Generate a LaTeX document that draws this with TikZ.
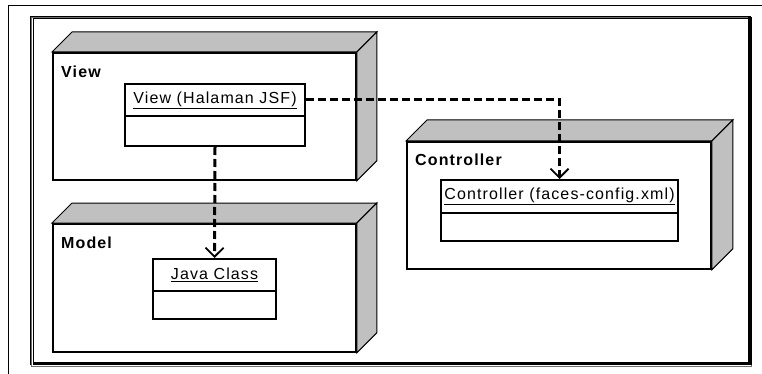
\documentclass[tikz,border=0pt]{standalone}
\usepackage{fontspec}
\setmainfont{Liberation Sans}[LetterSpace=7]
\usetikzlibrary{arrows.meta,calc}
\definecolor{silver}{RGB}{192,192,192}
\definecolor{framegray}{RGB}{110,110,110}

% shaded top and right faces of a UML node box
\newcommand{\nodedepth}[2]{%
  \filldraw[depthface] (#1.north west) -- ++(#2,-#2) -- ($(#1.north east)+(#2,-#2)$) -- (#1.north east) -- cycle;
  \filldraw[depthface] (#1.north east) -- ++(#2,-#2) -- ($(#1.south east)+(#2,-#2)$) -- (#1.south east) -- cycle;
}

\begin{document}
\begin{tikzpicture}[x=1pt,y=-1pt,
  depthface/.style={draw=black, line width=1pt, fill=silver},
  nodeface/.style={draw=black, line width=1.8pt, fill=white, inner sep=0pt, anchor=north west},
  classpart/.style={draw=black, line width=2pt, fill=white, inner sep=0pt, anchor=north west, font=\fontsize{16}{19}\selectfont},
  nodelabel/.style={anchor=west, inner sep=0pt, font=\fontsize{16}{19}\selectfont\bfseries},
  dep/.style={line width=3pt, dash pattern=on 8pt off 4pt,
    -{Straight Barb[length=9pt,width=18pt,line width=1.8pt]}}]

\useasboundingbox (0,0) rectangle (762,374);
\fill[white] (0,0) rectangle (762,374);

% page edges
\draw[line width=1.2pt] (8.5,374) -- (8.5,5.5) -- (762,5.5);

% outer frame
\draw[framegray, line width=1pt] (31.5,17.5) rectangle (751.5,366.5);
\draw[black, line width=1pt] (30.5,16.5) -- (751,16.5);
\draw[black, line width=1pt] (30.5,16.5) -- (30.5,365);
\draw[black, line width=1pt] (33,19) -- (748,19);
\draw[black, line width=1pt] (33,19) -- (33,362);
\draw[black, line width=3.5pt] (33,363.5) -- (750,363.5) -- (750,17);

% View node
\node[nodeface, minimum width=303pt, minimum height=127pt] (view) at (52,52) {};
\nodedepth{view}{20}
\node[nodelabel] (viewlbl) at (61,72) {View};
\node[classpart, minimum width=180pt, minimum height=32pt] (vhead) at (124,83) {\underline{View (Halaman JSF)}};
\node[classpart, minimum width=180pt, minimum height=30pt] (vbody) at (124,115) {};

% Model node
\node[nodeface, minimum width=303pt, minimum height=128pt] (model) at (52,223) {};
\nodedepth{model}{20}
\node[nodelabel] (modellbl) at (61,243) {Model};
\node[classpart, minimum width=123pt, minimum height=32pt] (jhead) at (152,258) {\underline{Java Class}};
\node[classpart, minimum width=123pt, minimum height=28pt] (jbody) at (152,290) {};

% Controller node
\node[nodeface, minimum width=304pt, minimum height=127pt] (ctrl) at (406,141) {};
\nodedepth{ctrl}{21}
\node[nodelabel] (ctrllbl) at (415,160) {Controller};
\node[classpart, minimum width=237pt, minimum height=33pt] (chead) at (440,179) {\underline{Controller (faces-config.xml)}};
\node[classpart, minimum width=237pt, minimum height=28pt] (cbody) at (440,212) {};

% dependencies
\draw[dep] (vbody.south) -- (jhead.north);
\draw[dep] (vhead.east) -| (chead.north);

\end{tikzpicture}
\end{document}
